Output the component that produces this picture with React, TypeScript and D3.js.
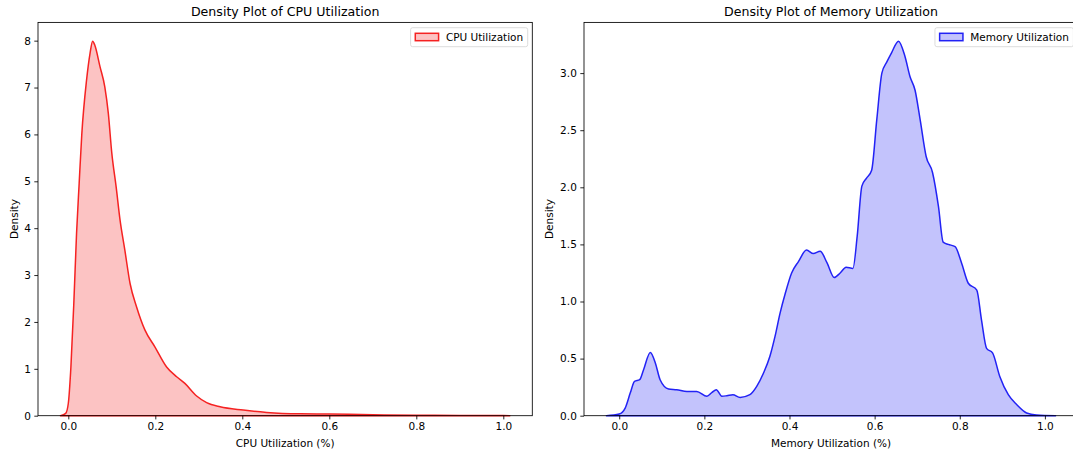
import * as d3 from 'd3';
import React, { useEffect, useRef } from 'react';

// values
const cpuX = [-0.018, -0.006, 0.0, 0.006, 0.013, 0.019, 0.025, 0.031, 0.042, 0.05, 0.056, 0.061, 0.073, 0.084, 0.092, 0.1, 0.11, 0.119, 0.13, 0.142, 0.157, 0.176, 0.199, 0.226, 0.249, 0.268, 0.295, 0.318, 0.349, 0.402, 0.456, 0.533, 0.6, 0.7, 0.8, 0.9, 1.0, 1.015];
const cpuDensity = [0, 0.05, 0.26, 1.04, 2.47, 3.89, 4.96, 6.0, 7.16, 7.73, 7.99, 7.9, 7.44, 7.01, 6.45, 5.6, 4.88, 4.17, 3.53, 2.82, 2.32, 1.83, 1.47, 1.04, 0.83, 0.69, 0.42, 0.28, 0.19, 0.12, 0.07, 0.04, 0.035, 0.02, 0.01, 0.005, 0.002, 0];

const memX = [-0.03, 0.0, 0.014, 0.026, 0.036, 0.048, 0.057, 0.073, 0.085, 0.096, 0.116, 0.135, 0.159, 0.182, 0.206, 0.218, 0.228, 0.241, 0.253, 0.267, 0.284, 0.307, 0.323, 0.339, 0.354, 0.366, 0.378, 0.39, 0.405, 0.421, 0.44, 0.456, 0.472, 0.488, 0.505, 0.519, 0.533, 0.549, 0.559, 0.57, 0.581, 0.593, 0.605, 0.617, 0.629, 0.64, 0.656, 0.671, 0.683, 0.695, 0.707, 0.721, 0.736, 0.75, 0.761, 0.773, 0.789, 0.804, 0.82, 0.84, 0.851, 0.863, 0.877, 0.894, 0.914, 0.934, 0.957, 0.98, 1.025];
const memDensity = [0, 0.015, 0.067, 0.2, 0.3, 0.315, 0.4, 0.554, 0.46, 0.315, 0.234, 0.228, 0.213, 0.213, 0.17, 0.204, 0.228, 0.17, 0.175, 0.184, 0.16, 0.184, 0.257, 0.374, 0.52, 0.694, 0.9, 1.07, 1.25, 1.35, 1.45, 1.42, 1.44, 1.34, 1.21, 1.25, 1.3, 1.29, 1.57, 2.01, 2.08, 2.15, 2.59, 3.0, 3.1, 3.18, 3.28, 3.15, 2.97, 2.85, 2.59, 2.27, 2.13, 1.83, 1.52, 1.5, 1.48, 1.34, 1.16, 1.1, 0.84, 0.59, 0.55, 0.344, 0.184, 0.096, 0.024, 0.006, 0];

const xTicks = [0, 0.2, 0.4, 0.6, 0.8, 1.0];
const cpuYTicks = [0, 1, 2, 3, 4, 5, 6, 7, 8];
const memYTicks = [0, 0.5, 1.0, 1.5, 2.0, 2.5, 3.0];

const width = 1073;
const height = 455;
const font = 'DejaVu Sans, sans-serif';

interface Panel {
    left: number;
    right: number;
    xs: number[];
    ys: number[];
    yTicks: number[];
    yFormat: (d: number) => string;
    yLabelOffset: number;
    color: string;
    title: string;
    xLabel: string;
    legend: string;
}

const panels: Panel[] = [
    {
        left: 38,
        right: 532.3,
        xs: cpuX,
        ys: cpuDensity,
        yTicks: cpuYTicks,
        yFormat: d3.format('d'),
        yLabelOffset: 20.5,
        color: '#f52222',
        title: 'Density Plot of CPU Utilization',
        xLabel: 'CPU Utilization (%)',
        legend: 'CPU Utilization',
    },
    {
        left: 584,
        right: 1078,
        xs: memX,
        ys: memDensity,
        yTicks: memYTicks,
        yFormat: d3.format('.1f'),
        yLabelOffset: 31,
        color: '#2222f5',
        title: 'Density Plot of Memory Utilization',
        xLabel: 'Memory Utilization (%)',
        legend: 'Memory Utilization',
    },
];

const top = 22.4;
const bottom = 415.7;

export default function App() {
    const ref = useRef<SVGSVGElement>(null);

    useEffect(() => {
        const svg = d3.select(ref.current);
        svg.selectAll('*').remove();

        panels.forEach((p) => {
            // matplotlib style 5% margins
            const [x0, x1] = d3.extent(p.xs) as [number, number];
            const pad = (x1 - x0) * 0.05;
            const xScale = d3.scaleLinear().domain([x0 - pad, x1 + pad]).range([p.left, p.right]);
            const yScale = d3
                .scaleLinear()
                .domain([0, d3.max(p.ys)! * 1.05])
                .range([bottom, top]);

            const g = svg.append('g');
            const pts = p.xs.map((x, i) => [x, p.ys[i]] as [number, number]);

            const area = d3
                .area<[number, number]>()
                .x((d) => xScale(d[0]))
                .y0(yScale(0))
                .y1((d) => yScale(d[1]))
                .curve(d3.curveMonotoneX);

            g.append('path')
                .attr('d', area(pts)!)
                .attr('fill', p.color)
                .attr('fill-opacity', 0.27)
                .attr('stroke', p.color)
                .attr('stroke-width', 1.5)
                .attr('stroke-linejoin', 'round');

            // x axis
            const xAxis = d3
                .axisBottom(xScale)
                .tickValues(xTicks)
                .tickFormat(d3.format('.1f') as any)
                .tickSize(3.7)
                .tickPadding(3.5);
            const xg = g.append('g').attr('transform', `translate(0,${bottom})`).call(xAxis);
            xg.select('.domain').remove();

            const yAxis = d3
                .axisLeft(yScale)
                .tickValues(p.yTicks)
                .tickFormat(p.yFormat as any)
                .tickSize(3.7)
                .tickPadding(3.5);
            const yg = g.append('g').attr('transform', `translate(${p.left},0)`).call(yAxis);
            yg.select('.domain').remove();

            g.selectAll('.tick line').attr('stroke', '#000').attr('stroke-width', 0.85);
            g.selectAll('.tick text')
                .attr('fill', '#000')
                .style('font-family', font)
                .style('font-size', '10.5px');

            // spines
            g.append('rect')
                .attr('x', p.left)
                .attr('y', top)
                .attr('width', p.right - p.left)
                .attr('height', bottom - top)
                .attr('fill', 'none')
                .attr('stroke', '#000')
                .attr('stroke-width', 0.85);

            const cx = (p.left + p.right) / 2;
            g.append('text')
                .attr('x', cx)
                .attr('y', 15.6)
                .attr('text-anchor', 'middle')
                .style('font-family', font)
                .style('font-size', '12.6px')
                .text(p.title);

            g.append('text')
                .attr('x', cx)
                .attr('y', 446.5)
                .attr('text-anchor', 'middle')
                .style('font-family', font)
                .style('font-size', '10.5px')
                .text(p.xLabel);

            g.append('text')
                .attr('transform', `translate(${p.left - p.yLabelOffset},${(top + bottom) / 2}) rotate(-90)`)
                .attr('text-anchor', 'middle')
                .style('font-family', font)
                .style('font-size', '10.5px')
                .text('Density');

            // legend
            const lg = g.append('g');
            const box = lg
                .append('rect')
                .attr('y', top + 5.3)
                .attr('height', 19)
                .attr('rx', 2)
                .attr('fill', '#fff')
                .attr('fill-opacity', 0.8)
                .attr('stroke', '#d6d6d6')
                .attr('stroke-width', 0.85);
            const patch = lg
                .append('rect')
                .attr('y', top + 10.9)
                .attr('width', 23.3)
                .attr('height', 7.4)
                .attr('fill', p.color)
                .attr('fill-opacity', 0.27)
                .attr('stroke', p.color)
                .attr('stroke-width', 1.5);
            const label = lg
                .append('text')
                .attr('y', top + 18.3)
                .style('font-family', font)
                .style('font-size', '10.5px')
                .text(p.legend);
            const textLen = (label.node() as SVGTextElement).getComputedTextLength();
            const boxW = 35.3 + textLen + 4.5;
            const boxX = Math.min(p.right, width + 5) - 4.6 - boxW;
            box.attr('x', boxX).attr('width', boxW);
            patch.attr('x', boxX + 4.7);
            label.attr('x', boxX + 35.3);
        });
    }, []);

    return (
        <svg
            ref={ref}
            width={width}
            height={height}
            style={{ position: 'absolute', left: 0, top: 0, background: '#fff', overflow: 'hidden' }}
        ></svg>
    );
}
